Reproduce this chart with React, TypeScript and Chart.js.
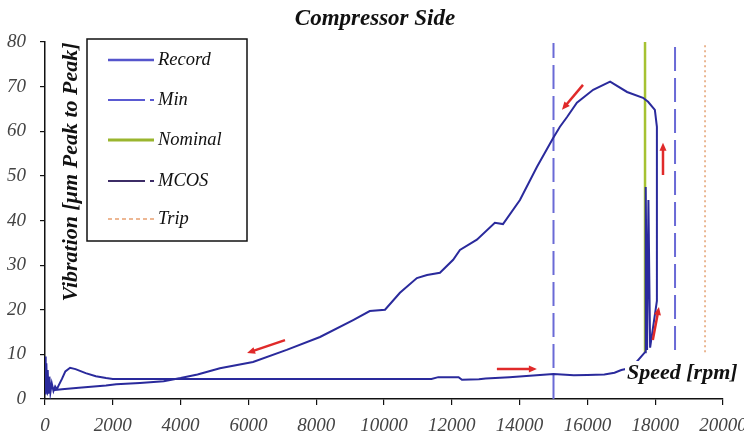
import React, { useEffect, useRef } from "react";
import { Chart, registerables } from "chart.js";

Chart.register(...registerables);

// ---- Data ----
const titleText = "Compressor Side";
const yTitle = "Vibration [\u03bcm Peak to Peak]";
const xTitle = "Speed [rpm]";

const recordSpeed = [
  0, 20, 40, 60, 80, 100, 130, 160, 200, 250, 300, 350, 400, 500, 600, 740, 900, 1200, 1500, 1800,
  2000, 4000, 6000, 8000, 10000, 11400, 11600, 12200, 12300, 12800, 13000, 13700, 14600, 15000, 15600,
  16000, 16500, 16800, 17000, 17300, 17700, 17720, 17760, 17800, 17850, 18050, 18050, 17990, 17790,
  17640, 17170, 16670, 16170, 15690, 15400, 15190, 14990, 14510, 14010, 13510, 13270, 12740, 12240,
  12040, 11650, 11270, 10970, 10470, 10030, 9580, 9090, 8112, 7130, 6136, 5160, 4500, 4000, 3500,
  2800, 2100, 1800, 1000, 500, 300, 150, 80, 40, 0,
];
const recordVib = [
  9.5, 1, 8, 2, 6.5, 1.2, 5, 1.5, 3.5, 1.8, 2.8, 2.2, 3, 4.5, 6.2, 7.0, 6.7, 5.8, 5.1, 4.7,
  4.5, 4.5, 4.5, 4.5, 4.5, 4.5, 4.9, 4.9, 4.3, 4.4, 4.6, 4.9, 5.4, 5.6, 5.3,
  5.4, 5.5, 5.9, 6.5, 7, 10.5, 47.5, 11, 44.6, 11.5, 22, 61, 64.8, 66.6,
  67.5, 68.8, 71.1, 69.3, 66.4, 63.2, 61, 58.5, 52, 44.6, 39.2, 39.5, 35.7, 33.4,
  31.2, 28.3, 27.8, 27.1, 23.8, 20, 19.7, 17.7, 13.9, 11, 8.3, 6.9, 5.5, 4.7, 4.0,
  3.6, 3.3, 3.0, 2.5, 2.2, 2.0, 2.8, 1.5, 4, 2,
];

const refNames = ["Min", "Nominal", "MCOS", "Trip"];
const refSpeeds = [15000, 17700, 18585, 19470];
const refLow = [0, 10.5, 11, 10.5];
const refHigh = [79.8, 80.5, 79.8, 79.5];

// annotation arrows (data coordinates: tail -> head)
const arrowTailX = [7080, 13330, 15870, 18230, 17930];
const arrowTailY = [13.2, 6.7, 70.4, 50.2, 13.2];
const arrowHeadX = [5960, 14510, 15250, 18230, 18110];
const arrowHeadY = [10.3, 6.7, 64.8, 57.4, 20.6];

const legendLabels = ["Record", "Min", "Nominal", "MCOS", "Trip"];

// ---- Styles ----
const recordColor = "#2a2a9c";
const refColors = ["#6a6ad6", "#a6c232", "#6a6ad6", "#e4a070"];
const refWidths = [2, 2.5, 2, 1.5];
const refDash = [[24, 7], [], [24, 7], [2, 3]];
const legendColors = ["#5555cc", "#5a5ad2", "#9ab52e", "#3c2c66", "#e8a070"];
const legendDash = [[], [37, 5, 5, 60], [], [37, 5, 5, 60], [4, 3]];
const legendWidths = [2.5, 2, 3, 2, 1.5];
const serif = "'Liberation Serif', 'Times New Roman', serif";

const overlayPlugin = {
  id: "overlay",
  afterDatasetsDraw(chart: any) {
    const ctx = chart.ctx as CanvasRenderingContext2D;
    const xs = chart.scales.x;
    const ys = chart.scales.y;
    ctx.save();

    // arrows
    ctx.strokeStyle = "#e02a2a";
    ctx.fillStyle = "#e02a2a";
    ctx.lineWidth = 2.5;
    for (let i = 0; i < arrowTailX.length; i++) {
      const x1 = xs.getPixelForValue(arrowTailX[i]);
      const y1 = ys.getPixelForValue(arrowTailY[i]);
      const x2 = xs.getPixelForValue(arrowHeadX[i]);
      const y2 = ys.getPixelForValue(arrowHeadY[i]);
      const a = Math.atan2(y2 - y1, x2 - x1);
      ctx.beginPath();
      ctx.moveTo(x1, y1);
      ctx.lineTo(x2 - 5 * Math.cos(a), y2 - 5 * Math.sin(a));
      ctx.stroke();
      ctx.beginPath();
      ctx.moveTo(x2, y2);
      ctx.lineTo(x2 - 8 * Math.cos(a) + 3.5 * Math.sin(a), y2 - 8 * Math.sin(a) - 3.5 * Math.cos(a));
      ctx.lineTo(x2 - 8 * Math.cos(a) - 3.5 * Math.sin(a), y2 - 8 * Math.sin(a) + 3.5 * Math.cos(a));
      ctx.closePath();
      ctx.fill();
    }

    // legend box
    ctx.fillStyle = "#ffffff";
    ctx.fillRect(87, 39, 160, 202);
    ctx.strokeStyle = "#111";
    ctx.lineWidth = 1.5;
    ctx.setLineDash([]);
    ctx.strokeRect(87, 39, 160, 202);
    const rowY = [60, 100, 140, 181, 219];
    ctx.font = `italic 18.5px ${serif}`;
    ctx.textBaseline = "middle";
    ctx.textAlign = "left";
    for (let i = 0; i < legendLabels.length; i++) {
      ctx.strokeStyle = legendColors[i];
      ctx.lineWidth = legendWidths[i];
      ctx.setLineDash(legendDash[i]);
      ctx.beginPath();
      ctx.moveTo(108, rowY[i]);
      ctx.lineTo(154, rowY[i]);
      ctx.stroke();
      ctx.setLineDash([]);
      ctx.fillStyle = "#111";
      ctx.fillText(legendLabels[i], 158, rowY[i]);
    }

    // y title (inside plot)
    ctx.save();
    ctx.translate(71, 172);
    ctx.rotate(-Math.PI / 2);
    ctx.font = `bold italic 22px ${serif}`;
    ctx.textAlign = "center";
    ctx.textBaseline = "middle";
    ctx.fillStyle = "#111";
    ctx.fillText(yTitle, 0, 0);
    ctx.restore();

    // x title (inside plot, right)
    ctx.font = `bold italic 22px ${serif}`;
    ctx.textAlign = "left";
    ctx.textBaseline = "alphabetic";
    const w = ctx.measureText(xTitle).width;
    ctx.fillStyle = "#ffffff";
    ctx.fillRect(625, 361, w + 6, 26);
    ctx.fillStyle = "#111";
    ctx.fillText(xTitle, 627, 379);

    // chart title
    ctx.font = `bold italic 23px ${serif}`;
    ctx.textAlign = "center";
    ctx.fillText(titleText, 375, 25);

    ctx.restore();
  },
};

export default function App() {
  const ref = useRef<HTMLCanvasElement | null>(null);

  useEffect(() => {
    if (!ref.current) return;
    const datasets: any[] = [
      {
        label: "Record",
        data: recordSpeed.map((s, i) => ({ x: s, y: recordVib[i] })),
        borderColor: recordColor,
        borderWidth: 2,
        showLine: true,
        pointRadius: 0,
        tension: 0,
      },
    ];
    refNames.forEach((n, i) => {
      datasets.push({
        label: n,
        data: [
          { x: refSpeeds[i], y: refLow[i] },
          { x: refSpeeds[i], y: refHigh[i] },
        ],
        borderColor: refColors[i],
        borderWidth: refWidths[i],
        borderDash: refDash[i],
        showLine: true,
        pointRadius: 0,
      });
    });

    const chart = new Chart(ref.current, {
      type: "scatter",
      data: { datasets },
      options: {
        responsive: false,
        animation: false,
        layout: { padding: { top: 42, right: 21, bottom: 0, left: 0 } },
        plugins: {
          legend: { display: false },
          tooltip: { enabled: false },
          title: { display: false },
        },
        scales: {
          x: {
            type: "linear",
            min: 0,
            max: 20000,
            afterFit: (s: any) => {
              s.height = 41;
              s.paddingLeft = 0;
              s.paddingRight = 0;
            },
            ticks: {
              stepSize: 2000,
              padding: 10,
              color: "#444",
              font: { family: serif, size: 19, style: "italic" },
              maxRotation: 0,
              autoSkip: false,
              callback: (v: any) => String(v),
            },
            grid: { drawOnChartArea: false, tickLength: 6, color: "#111", lineWidth: 1.2 },
            border: { display: true, color: "#111", width: 1.5 },
          },
          y: {
            type: "linear",
            min: 0,
            max: 80,
            afterFit: (s: any) => {
              s.width = 45;
              s.paddingTop = 0;
              s.paddingBottom = 0;
            },
            ticks: {
              stepSize: 10,
              padding: 14,
              color: "#444",
              font: { family: serif, size: 19, style: "italic" },
              callback: (v: any) => String(v),
            },
            grid: { drawOnChartArea: false, tickLength: 5, color: "#111", lineWidth: 1.2 },
            border: { display: true, color: "#111", width: 1.5 },
          },
        },
      },
      plugins: [overlayPlugin],
    });
    return () => chart.destroy();
  }, []);

  return (
    <div style={{ position: "absolute", left: 0, top: 0, width: 744, height: 440, background: "#fff" }}>
      <canvas ref={ref} width={744} height={440} style={{ display: "block" }} />
    </div>
  );
}
